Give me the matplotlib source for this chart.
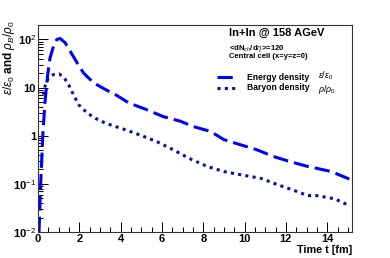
import numpy as np
import matplotlib
matplotlib.use("Agg")
import matplotlib.pyplot as plt
from matplotlib.ticker import LogLocator, MultipleLocator, NullFormatter, FixedLocator

plt.rcParams['font.family'] = ['Liberation Sans', 'DejaVu Sans']
plt.rcParams['mathtext.fontset'] = 'custom'
plt.rcParams['mathtext.rm'] = 'Liberation Sans'
plt.rcParams['mathtext.it'] = 'Liberation Sans:italic'

# energy density eps/eps0 vs time
t_energy = [0.05, 0.13, 0.23, 0.34, 0.47, 0.58, 0.75, 0.91, 1.07, 1.32, 1.56, 1.89, 2.21,
            2.7, 3.27, 3.76, 4.4, 5.25, 6.06, 6.9, 7.5, 8.35, 9.0, 9.8, 10.6, 11.4, 12.2,
            13.06, 13.5, 14.2, 15.07]
energy = [0.01, 0.1, 1.0, 5.2, 18.7, 41.0, 72.0, 100.0, 105.0, 85.0, 57.0, 33.0, 20.0,
          12.5, 9.1, 7.1, 4.8, 3.5, 2.5, 2.0, 1.56, 1.23, 0.83, 0.65, 0.51, 0.37, 0.29,
          0.23, 0.21, 0.18, 0.126]

# baryon density rho/rho0 vs time
t_baryon = [0.26, 0.34, 0.5, 0.75, 1.02, 1.28, 1.48, 1.72, 1.97, 2.37, 2.78, 3.27, 3.76,
            4.3, 4.9, 5.74, 6.55, 7.37, 8.2, 9.0, 9.8, 10.8, 11.6, 12.4, 13.06, 13.5,
            14.36, 15.09]
baryon = [7.1, 10.7, 15.8, 18.7, 19.3, 15.8, 11.5, 7.1, 4.4, 3.0, 2.3, 1.82, 1.55,
          1.3, 1.05, 0.76, 0.51, 0.33, 0.23, 0.18, 0.155, 0.13, 0.096, 0.073, 0.057,
          0.057, 0.049, 0.035]

fig = plt.figure(figsize=(3.9, 2.58), dpi=100)
ax = fig.add_axes([38/390, 1-232/258, 314/390, 207/258])

ax.plot(t_energy, energy, color='#0000ff', lw=2.2, dashes=(5, 2))
ax.plot(t_baryon, baryon, color='#0a0aa8', lw=2.2, dashes=(1, 1.4))

ax.set_yscale('log')
ax.set_xlim(0, 15.2)
ax.set_ylim(0.01, 200)

ax.xaxis.set_major_locator(MultipleLocator(2))
ax.xaxis.set_minor_locator(MultipleLocator(0.5))
ax.yaxis.set_major_locator(FixedLocator([0.01, 0.1, 1, 10, 100]))
ax.yaxis.set_minor_locator(LogLocator(base=10, subs=np.arange(2, 10)))
ax.yaxis.set_minor_formatter(NullFormatter())
ax.set_yticklabels([r'10$^{-2}$', r'10$^{-1}$', '1', '10', r'10$^{2}$'])
ax.set_xticklabels([str(int(v)) for v in ax.get_xticks()])

ax.tick_params(which='both', direction='in', top=False, right=False,
               labelsize=8, width=0.7, pad=1.5)
ax.tick_params(which='major', length=7)
ax.tick_params(which='minor', length=3.5)
for lab in ax.get_xticklabels() + ax.get_yticklabels():
    lab.set_fontweight('bold')
for s in ax.spines.values():
    s.set_linewidth(0.8)
    s.set_color('#333333')

ax.set_xlabel('Time t [fm]', fontsize=7.8, fontweight='bold', loc='right', labelpad=1)
ax.set_ylabel(r'$\varepsilon/\varepsilon_0$ and $\rho_B/\rho_0$', fontsize=8.5,
              fontweight='bold', loc='top')
ax.yaxis.set_label_coords(-0.066, 1.025)

fig.text(229/390, 1-33/258, 'In+In @ 158 AGeV', fontsize=8, fontweight='bold', va='center')
fig.text(229/390, 1-49/258, r'<dN$_{ch}$/d$\eta$>=120', fontsize=5.6,
         fontweight='bold', va='center')
fig.text(229/390, 1-57/258, 'Central cell (x=y=z=0)', fontsize=5.5,
         fontweight='bold', va='center')

# legend drawn by hand
fig.lines.append(plt.Line2D([217/390, 236/390], [1-77/258, 1-77/258], color='#0000ff',
                            lw=2.2, dashes=(5, 2), transform=fig.transFigure))
fig.lines.append(plt.Line2D([217/390, 236/390], [1-88/258, 1-88/258], color='#0a0aa8',
                            lw=2.2, dashes=(1, 1.4), transform=fig.transFigure))
fig.text(247/390, 1-77/258, 'Energy density', fontsize=6.2, fontweight='bold', va='center')
fig.text(318/390, 1-76/258, r'$\varepsilon/\varepsilon_0$', fontsize=6.3, va='center')
fig.text(247/390, 1-88/258, 'Baryon density', fontsize=6.2, fontweight='bold', va='center')
fig.text(318/390, 1-89/258, r'$\rho/\rho_0$', fontsize=6.3, va='center')

fig.savefig('out.png', dpi=100)
